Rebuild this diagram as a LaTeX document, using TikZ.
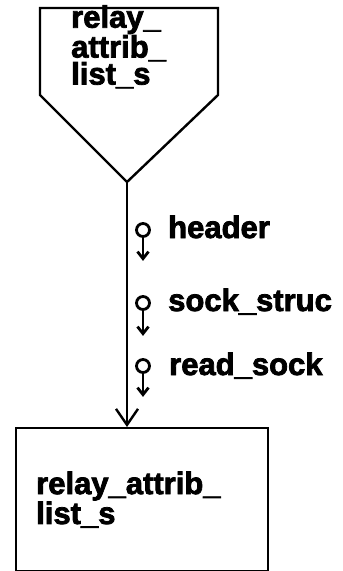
\documentclass[tikz,border=0pt]{standalone}
\usepackage{fontspec}
\setmainfont{Liberation Sans}[BoldFeatures={FakeBold=2.5}]
\usepackage{tikz}
\usetikzlibrary{arrows.meta,positioning}

\begin{document}
\begin{tikzpicture}[
        x=1pt,y=-1pt,
        line width=2.4pt,
        chartfont/.style={font=\fontsize{31}{27}\selectfont\bfseries},
        modbox/.style={draw,chartfont,inner xsep=20pt,inner ysep=0pt,text width=212pt,minimum height=143pt,align=left},
        couple/.style={draw,circle,line width=2.8pt,inner sep=0pt,minimum size=13pt},
        coupletxt/.style={chartfont,inner sep=0pt,anchor=base west,yshift=-8pt},
        flow/.style={-{Straight Barb[length=16pt,width=22pt,line width=2.4pt]}},
        coupleflow/.style={line width=2.8pt,-{Straight Barb[length=7pt,width=11pt,line width=2.8pt]}}
      ]
        \useasboundingbox (0,0) rectangle (343,571);
        % calling module (off-page connector shape)
        \coordinate (srcnw) at (40,8);
        \coordinate (srcne) at (218,8);
        \coordinate (srctip) at (127,182);
        \draw[line join=miter] (srcnw) -- (srcne) -- (218,95) -- (srctip) -- (40,95) -- cycle;
        \node[chartfont,inner sep=0pt,align=left,anchor=north west] (srcname) at (70,4) {relay\_\\attrib\_\\list\_s};
        % called module
        \node[modbox,anchor=north west] (dst) at (15,427) {relay\_attrib\_\\list\_s};
        \draw[flow] (srctip) -- (srctip |- dst.north);
        % data couples
        \node[couple] (c1) at (143,230) {};
        \node[couple] (c2) at (143,303) {};
        \node[couple] (c3) at (143,366) {};
        \coordinate[below=23pt of c1.south] (c1end);
        \coordinate[below=25pt of c2.south] (c2end);
        \coordinate[below=23pt of c3.south] (c3end);
        \draw[coupleflow] (c1) -- (c1end);
        \draw[coupleflow] (c2) -- (c2end);
        \draw[coupleflow] (c3) -- (c3end);
        \node[coupletxt,right=24pt of c1.center,anchor=base west] (l1) {header};
        \node[coupletxt,right=24pt of c2.center,anchor=base west] (l2) {sock\_struc};
        \node[coupletxt,right=25pt of c3.center,anchor=base west,yshift=-1pt] (l3) {read\_sock};
      \end{tikzpicture}
\end{document}
